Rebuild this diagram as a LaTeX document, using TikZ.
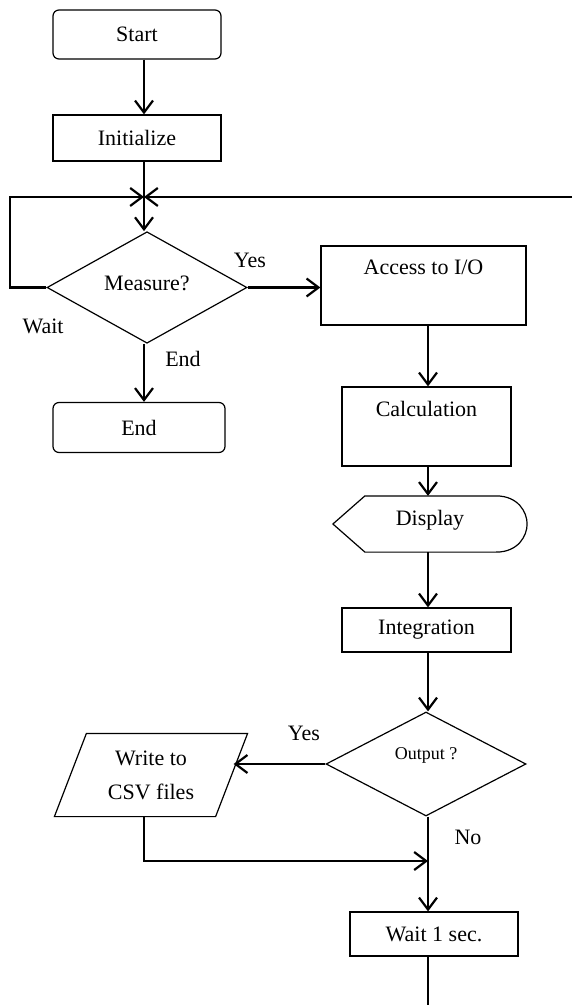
\documentclass[tikz,border=0pt]{standalone}
\usepackage{fontspec}
\setmainfont{Liberation Serif}
\usetikzlibrary{shapes.geometric,arrows.meta}

\begin{document}
\begin{tikzpicture}[x=0.5pt, y=-0.5pt,
  procbox/.style={draw, line width=0.6pt, inner sep=0pt, font=\fontsize{11}{13}\selectfont},
  termbox/.style={procbox, rounded corners=3pt},
  decide/.style={draw, diamond, line width=0.6pt, inner sep=0pt, font=\fontsize{11}{13}\selectfont},
  flow/.style={line width=1.1pt, -{Straight Barb[length=6pt,width=9pt]}},
  plain/.style={line width=1.1pt},
  lbl/.style={font=\fontsize{11}{13}\selectfont}]
  \useasboundingbox (0,0) rectangle (572,1005);

  % Axes of the two columns
  \def\lx{144}
  \def\rx{428}
  \coordinate (lax) at (\lx,0);
  \coordinate (rax) at (\rx,0);

  % Left column
  \node[termbox, minimum width=84pt, minimum height=24.5pt] (start) at (137,34.5) {Start};
  \node[procbox, minimum width=84pt, minimum height=23pt] (init) at (137,138) {Initialize};
  \node[decide, minimum width=100pt, minimum height=52.5pt, text height=8pt, text depth=5pt] (meas) at (147,287.5) {Measure?};
  \node[termbox, minimum width=86pt, minimum height=25pt] (endb) at (139,427.5) {End};

  % Right column
  \node[procbox, minimum width=102.5pt, minimum height=39.5pt, text height=8pt, text depth=18.7pt] (acc) at (423.5,285.5) {Access to I/O};
  \node[procbox, minimum width=84.5pt, minimum height=39.5pt, text height=8pt, text depth=18.2pt] (calc) at (426.5,426.5) {Calculation};
  \node[procbox, draw=none, minimum width=96.5pt, minimum height=27.5pt, text height=8pt, text depth=6.7pt] (disp) at (430,524) {Display};
  \draw[line width=0.6pt] (disp.west) -- ([xshift=16pt]disp.north west) -- ([xshift=-15.5pt]disp.north east)
    .. controls +(11pt,0pt) and +(0pt,6pt) .. (disp.east)
    .. controls +(0pt,-6pt) and +(11pt,0pt) .. ([xshift=-15.5pt]disp.south east)
    -- ([xshift=16pt]disp.south west) -- cycle;
  \node[procbox, minimum width=84.5pt, minimum height=22pt] (integ) at (426.5,630) {Integration};
  \node[decide, font=\fontsize{9}{11}\selectfont, minimum width=100pt, minimum height=52pt, text height=6pt, text depth=11pt] (out) at (426,764) {Output ?};
  \node[procbox, draw=none, align=center, minimum width=96pt, minimum height=41pt] (csv) at (151,775) {Write to\\[4pt] CSV files};
  \draw[line width=0.6pt] ([xshift=16pt]csv.north west) -- (csv.north east) -- ([xshift=-16pt]csv.south east) -- (csv.south west) -- cycle;
  \node[procbox, minimum width=84pt, minimum height=22pt] (wt) at (434,934) {Wait 1 sec.};

  % Loop points
  \coordinate (join) at (\lx,197);
  \coordinate (loopl) at (10,197);
  \coordinate (loopr) at (572,197);
  \coordinate (merge) at (\rx,861);
  \coordinate (tail) at (\rx,1005);
  \coordinate (csvin) at ([xshift=-7pt]csv.east);

  % Connectors
  \draw[flow] (start.south -| lax) -- (init.north -| lax);
  \draw[plain] (init.south -| lax) -- (join);
  \draw[flow] (join) -- (meas.north -| lax);
  \draw[flow] (meas.west) -| (loopl) -- (join);
  \draw[flow] (loopr) -- (join);
  \draw[flow] (meas.east) -- (meas.east -| acc.west);
  \draw[flow] (meas.south -| lax) -- (endb.north -| lax);
  \draw[flow] (acc.south -| rax) -- (calc.north -| rax);
  \draw[flow] (calc.south -| rax) -- (disp.north -| rax);
  \draw[flow] (disp.south -| rax) -- (integ.north -| rax);
  \draw[flow] (integ.south -| rax) -- (out.north -| rax);
  \draw[flow] (out.west) -- (csvin |- out.west);
  \draw[flow] (csv.south -| lax) |- (merge);
  \draw[flow] (out.south -| rax) -- (wt.north -| rax);
  \draw[plain] (wt.south -| rax) -- (tail);

  % Branch labels
  \node[lbl] (waitl) at (43,326) {Wait};
  \node[lbl] (yesa) at (250,260) {Yes};
  \node[lbl] (endl) at (183,359) {End};
  \node[lbl] (yesb) at (304,733) {Yes};
  \node[lbl] (nol) at (468,837) {No};
\end{tikzpicture}
\end{document}
